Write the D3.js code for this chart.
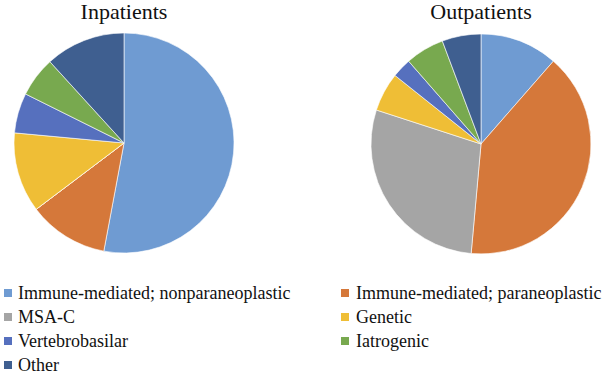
<!DOCTYPE html>
<html>
<head>
<meta charset="UTF-8">
<script src="https://d3js.org/d3.v7.min.js"></script>
</head>
<body style="margin:0">
<svg width="609" height="374" style="display:block"></svg>
<script>
const categories = [
  'Immune-mediated; nonparaneoplastic',
  'Immune-mediated; paraneoplastic',
  'MSA-C',
  'Genetic',
  'Vertebrobasilar',
  'Iatrogenic',
  'Other'
];
const colors = ['#6f9bd2', '#d5783a', '#a5a5a5', '#efbe36', '#5670be', '#78a94f', '#3f5f90'];
const inpatients = [9, 2, 0, 2, 1, 1, 2];
const outpatients = [4, 14, 10, 2, 1, 2, 2];
const titles = ['Inpatients', 'Outpatients'];

const svg = d3.select('svg');
const color = d3.scaleOrdinal().domain(categories).range(colors);
const pie = d3.pie().sort(null).value(d => d.v);
const arc = d3.arc().innerRadius(0).outerRadius(110);

const charts = [
  { title: titles[0], values: inpatients, cx: 124, cy: 143 },
  { title: titles[1], values: outpatients, cx: 481, cy: 144 }
];

charts.forEach(c => {
  const g = svg.append('g').attr('transform', `translate(${c.cx},${c.cy})`);
  const data = categories.map((k, i) => ({ k: k, v: c.values[i] }));
  g.selectAll('path')
    .data(pie(data))
    .enter()
    .append('path')
    .attr('d', arc)
    .attr('fill', d => color(d.data.k))
    .attr('stroke', '#fff')
    .attr('stroke-width', 0.6);
  svg.append('text')
    .attr('x', c.cx)
    .attr('y', 19)
    .attr('text-anchor', 'middle')
    .style('font-family', '"Liberation Serif"')
    .style('font-size', '22px')
    .style('fill', '#111')
    .text(c.title);
});

// legend, two columns
const item = svg.append('g').selectAll('g')
  .data(categories)
  .enter()
  .append('g')
  .attr('transform', (d, i) => `translate(${i % 2 === 0 ? 4 : 341},${293 + Math.floor(i / 2) * 24})`);
item.append('rect')
  .attr('x', 0).attr('y', -4)
  .attr('width', 8).attr('height', 8)
  .attr('fill', d => color(d));
item.append('text')
  .attr('x', d => categories.indexOf(d) % 2 === 0 ? 14 : 15)
  .attr('y', 6)
  .style('font-family', '"Liberation Serif"')
  .style('font-size', '18px')
  .style('fill', '#111')
  .text(d => d);
</script>
</body>
</html>
